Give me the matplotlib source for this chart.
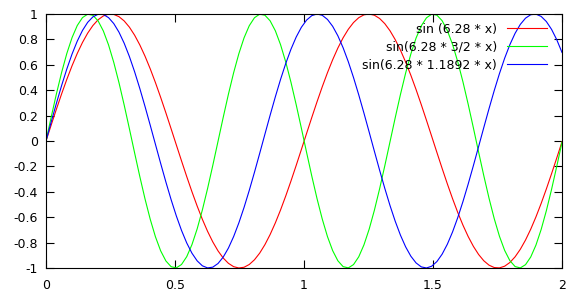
import matplotlib.pyplot as plt
import numpy as np

# Function parameters as shown in the legend
base = 6.28
factors = [1.0, 3 / 2, 1.1892]
labels = ['sin (6.28 * x)', 'sin(6.28 * 3/2 * x)', 'sin(6.28 * 1.1892 * x)']
colors = ['#ff0000', '#00ff00', '#0000ff']
x_ticks = [0, 0.5, 1, 1.5, 2]
y_ticks = [-1, -0.8, -0.6, -0.4, -0.2, 0, 0.2, 0.4, 0.6, 0.8, 1]

plt.rcParams['font.family'] = 'DejaVu Sans'
fig = plt.figure(figsize=(5.81, 2.98), dpi=100)
ax = fig.add_axes([46 / 581, 1 - 268 / 298, (562 - 46) / 581, (268 - 14) / 298])

x = np.linspace(0, 2, 100)
for f, lab, c in zip(factors, labels, colors):
    ax.plot(x, np.sin(base * f * x), color=c, linewidth=0.8, label=lab)

ax.set_xlim(0, 2)
ax.set_ylim(-1, 1)
ax.set_xticks(x_ticks)
ax.set_xticklabels(['0', '0.5', '1', '1.5', '2'])
ax.set_yticks(y_ticks)
ax.set_yticklabels(['%g' % v for v in y_ticks])
ax.tick_params(direction='in', top=True, right=True, length=6, width=0.8,
               labelsize=9)
ax.tick_params(axis='y', pad=6)
ax.tick_params(axis='x', pad=8)
for s in ax.spines.values():
    s.set_linewidth(0.8)

ax.legend(loc='upper right', bbox_to_anchor=(0.971, 0.966), frameon=False,
          markerfirst=False, fontsize=9, handlelength=3.2, labelspacing=0.4,
          borderaxespad=0, borderpad=0, handletextpad=0.8)

fig.savefig('out.png', dpi=100)
